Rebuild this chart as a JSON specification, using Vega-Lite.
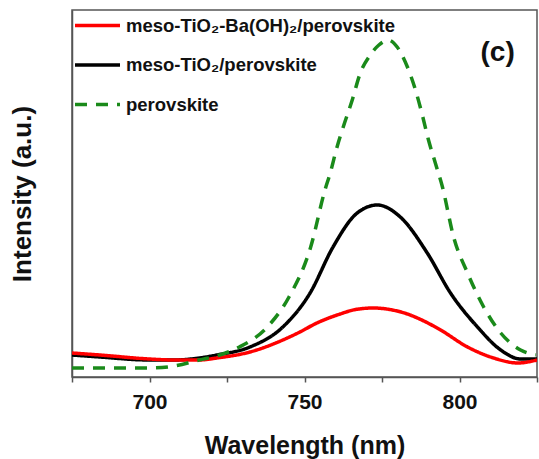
{
  "$schema": "https://vega.github.io/schema/vega-lite/v6.json",
  "width": 465,
  "height": 367,
  "autosize": "none",
  "padding": {"left": 72, "top": 10, "right": 2, "bottom": 82},
  "background": "white",
  "config": {
    "view": {"stroke": "#555555", "strokeWidth": 1.5},
    "font": "Liberation Sans"
  },
  "datasets": {
    "curves": [
      {"s": "meso-TiO₂/perovskite", "w": 675, "i": 22},
      {"s": "meso-TiO₂/perovskite", "w": 684, "i": 20},
      {"s": "meso-TiO₂/perovskite", "w": 700, "i": 17},
      {"s": "meso-TiO₂/perovskite", "w": 708, "i": 17},
      {"s": "meso-TiO₂/perovskite", "w": 716, "i": 19},
      {"s": "meso-TiO₂/perovskite", "w": 721.7, "i": 22},
      {"s": "meso-TiO₂/perovskite", "w": 732.4, "i": 30},
      {"s": "meso-TiO₂/perovskite", "w": 743, "i": 50},
      {"s": "meso-TiO₂/perovskite", "w": 751.8, "i": 84},
      {"s": "meso-TiO₂/perovskite", "w": 759.2, "i": 130},
      {"s": "meso-TiO₂/perovskite", "w": 767, "i": 164},
      {"s": "meso-TiO₂/perovskite", "w": 773.5, "i": 172},
      {"s": "meso-TiO₂/perovskite", "w": 780.9, "i": 160},
      {"s": "meso-TiO₂/perovskite", "w": 789.6, "i": 124},
      {"s": "meso-TiO₂/perovskite", "w": 797.1, "i": 84},
      {"s": "meso-TiO₂/perovskite", "w": 805.8, "i": 50},
      {"s": "meso-TiO₂/perovskite", "w": 813.3, "i": 27},
      {"s": "meso-TiO₂/perovskite", "w": 819.7, "i": 18},
      {"s": "meso-TiO₂/perovskite", "w": 825, "i": 18},
      {"s": "meso-TiO₂-Ba(OH)₂/perovskite", "w": 675, "i": 24},
      {"s": "meso-TiO₂-Ba(OH)₂/perovskite", "w": 684, "i": 22},
      {"s": "meso-TiO₂-Ba(OH)₂/perovskite", "w": 700, "i": 18},
      {"s": "meso-TiO₂-Ba(OH)₂/perovskite", "w": 708, "i": 17},
      {"s": "meso-TiO₂-Ba(OH)₂/perovskite", "w": 716, "i": 17},
      {"s": "meso-TiO₂-Ba(OH)₂/perovskite", "w": 721.7, "i": 19},
      {"s": "meso-TiO₂-Ba(OH)₂/perovskite", "w": 732.4, "i": 25},
      {"s": "meso-TiO₂-Ba(OH)₂/perovskite", "w": 743, "i": 37},
      {"s": "meso-TiO₂-Ba(OH)₂/perovskite", "w": 748.5, "i": 45},
      {"s": "meso-TiO₂-Ba(OH)₂/perovskite", "w": 754, "i": 54},
      {"s": "meso-TiO₂-Ba(OH)₂/perovskite", "w": 761.5, "i": 63},
      {"s": "meso-TiO₂-Ba(OH)₂/perovskite", "w": 766.5, "i": 67.5},
      {"s": "meso-TiO₂-Ba(OH)₂/perovskite", "w": 772.2, "i": 69},
      {"s": "meso-TiO₂-Ba(OH)₂/perovskite", "w": 777.5, "i": 67.5},
      {"s": "meso-TiO₂-Ba(OH)₂/perovskite", "w": 783.2, "i": 63},
      {"s": "meso-TiO₂-Ba(OH)₂/perovskite", "w": 788.5, "i": 56},
      {"s": "meso-TiO₂-Ba(OH)₂/perovskite", "w": 793.9, "i": 47},
      {"s": "meso-TiO₂-Ba(OH)₂/perovskite", "w": 802.6, "i": 30},
      {"s": "meso-TiO₂-Ba(OH)₂/perovskite", "w": 811, "i": 19},
      {"s": "meso-TiO₂-Ba(OH)₂/perovskite", "w": 818.8, "i": 14},
      {"s": "meso-TiO₂-Ba(OH)₂/perovskite", "w": 825, "i": 17},
      {"s": "perovskite", "w": 675, "i": 9},
      {"s": "perovskite", "w": 684, "i": 9},
      {"s": "perovskite", "w": 700, "i": 9},
      {"s": "perovskite", "w": 708, "i": 11},
      {"s": "perovskite", "w": 716, "i": 17},
      {"s": "perovskite", "w": 722.7, "i": 22},
      {"s": "perovskite", "w": 729, "i": 30},
      {"s": "perovskite", "w": 738, "i": 50},
      {"s": "perovskite", "w": 745, "i": 80},
      {"s": "perovskite", "w": 752, "i": 130},
      {"s": "perovskite", "w": 756.6, "i": 187},
      {"s": "perovskite", "w": 758.3, "i": 204},
      {"s": "perovskite", "w": 760.5, "i": 230},
      {"s": "perovskite", "w": 762.5, "i": 250},
      {"s": "perovskite", "w": 765.4, "i": 277},
      {"s": "perovskite", "w": 768, "i": 304},
      {"s": "perovskite", "w": 771.2, "i": 322},
      {"s": "perovskite", "w": 774, "i": 332},
      {"s": "perovskite", "w": 777, "i": 337},
      {"s": "perovskite", "w": 779.9, "i": 330},
      {"s": "perovskite", "w": 783.2, "i": 310},
      {"s": "perovskite", "w": 785.8, "i": 287},
      {"s": "perovskite", "w": 788, "i": 262},
      {"s": "perovskite", "w": 790, "i": 237},
      {"s": "perovskite", "w": 792.2, "i": 214},
      {"s": "perovskite", "w": 794.5, "i": 190},
      {"s": "perovskite", "w": 798.1, "i": 140},
      {"s": "perovskite", "w": 802.6, "i": 104},
      {"s": "perovskite", "w": 807.8, "i": 70},
      {"s": "perovskite", "w": 813.3, "i": 44},
      {"s": "perovskite", "w": 819.7, "i": 27},
      {"s": "perovskite", "w": 824.6, "i": 22}
    ],
    "panel": [
      {"w": 812.3, "i": 324, "label": "(c)"}
    ]
  },
  "layer": [
    {
      "data": {"name": "curves"},
      "mark": {"type": "line", "strokeWidth": 3.5, "interpolate": "monotone", "clip": true},
      "encoding": {
        "x": {
          "field": "w", "type": "quantitative",
          "scale": {"domain": [675, 825], "nice": false, "zero": false},
          "axis": {
            "title": "Wavelength (nm)",
            "values": [675, 700, 725, 750, 775, 800, 825],
            "labelExpr": "datum.value % 50 === 0 ? datum.label : ''",
            "grid": false,
            "domainColor": "#555555", "domainWidth": 1.5,
            "tickColor": "#555555", "tickWidth": 1.5, "tickSize": 5,
            "labelFont": "Liberation Sans", "labelFontSize": 21, "labelFontWeight": "bold", "labelColor": "#111111",
            "labelPadding": 9,
            "titleFont": "Liberation Sans", "titleFontSize": 25, "titleFontWeight": "bold", "titleColor": "#111111",
            "titlePadding": 21
          }
        },
        "y": {
          "field": "i", "type": "quantitative",
          "scale": {"domain": [0, 367], "nice": false},
          "axis": {
            "title": "Intensity (a.u.)",
            "labels": false, "ticks": false, "grid": false,
            "domainColor": "#555555", "domainWidth": 1.5,
            "titleFont": "Liberation Sans", "titleFontSize": 26, "titleFontWeight": "bold", "titleColor": "#111111",
            "titlePadding": 37
          }
        },
        "color": {
          "field": "s", "type": "nominal",
          "scale": {
            "domain": ["meso-TiO₂-Ba(OH)₂/perovskite", "meso-TiO₂/perovskite", "perovskite"],
            "range": ["#ff0000", "#000000", "#1a8a1a"]
          },
          "legend": {
            "title": null,
            "orient": "none", "legendX": 1, "legendY": -9,
            "symbolType": "stroke", "symbolSize": 2025, "symbolStrokeWidth": 3.5,
            "labelFont": "Liberation Sans", "labelFontSize": 18.5, "labelFontWeight": "bold", "labelColor": "#111111",
            "labelOffset": 4, "rowPadding": 5.5, "padding": 0, "labelLimit": 400
          }
        },
        "strokeDash": {
          "field": "s", "type": "nominal",
          "scale": {
            "domain": ["meso-TiO₂-Ba(OH)₂/perovskite", "meso-TiO₂/perovskite", "perovskite"],
            "range": [[1, 0], [1, 0], [12, 9]]
          },
          "legend": {
            "title": null,
            "orient": "none", "legendX": 1, "legendY": -9,
            "symbolType": "stroke", "symbolSize": 2025, "symbolStrokeWidth": 3.5,
            "labelFont": "Liberation Sans", "labelFontSize": 18.5, "labelFontWeight": "bold", "labelColor": "#111111",
            "labelOffset": 4, "rowPadding": 5.5, "padding": 0, "labelLimit": 400
          }
        }
      }
    },
    {
      "data": {"name": "panel"},
      "mark": {"type": "text", "font": "Liberation Sans", "fontSize": 28, "fontWeight": "bold", "color": "#111111"},
      "encoding": {
        "x": {"field": "w", "type": "quantitative"},
        "y": {"field": "i", "type": "quantitative"},
        "text": {"field": "label"}
      }
    }
  ]
}
